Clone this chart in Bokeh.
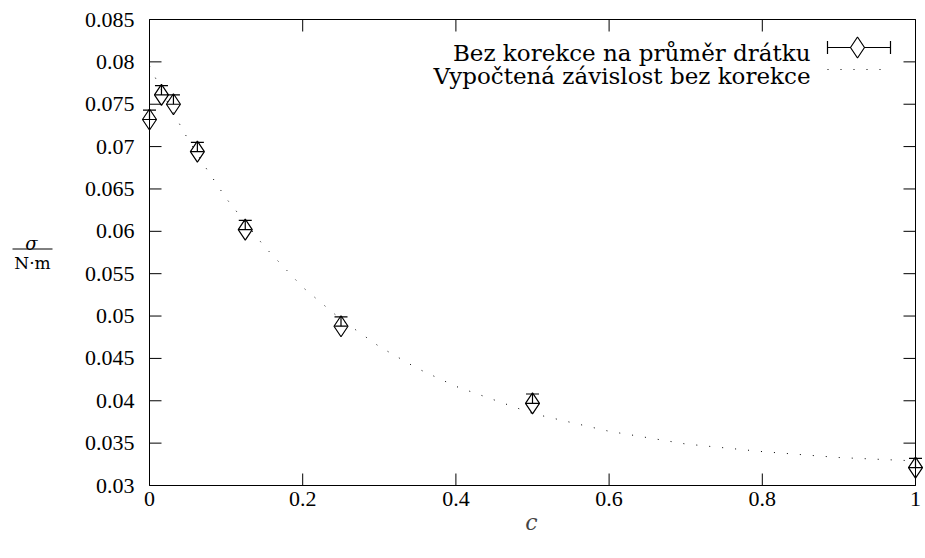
from bokeh.plotting import figure
from bokeh.layouts import row
from bokeh.models import (Range1d, LinearAxis, FixedTicker,
                          CustomJSTickFormatter)
from bokeh.core.properties import value
from bokeh.embed import file_html
from bokeh.resources import INLINE

# ---------------- data ----------------
conc = [0.0, 0.015625, 0.03125, 0.0625, 0.125, 0.25, 0.5, 1.0]
sigma = [0.0732, 0.0761, 0.0750, 0.0694, 0.0602, 0.0488, 0.0397, 0.0321]
sigma_err_up = [0.0011, 0.0011, 0.0011, 0.0011, 0.0011, 0.0011, 0.0011, 0.0011]

fit_conc = [0.0, 0.025, 0.05, 0.075, 0.1, 0.15, 0.2, 0.25, 0.3, 0.35, 0.4,
            0.5, 0.6, 0.7, 0.8, 0.9, 1.0]
fit_sigma = [0.0795, 0.0750, 0.0709, 0.0673, 0.0639, 0.0582, 0.0534, 0.0496,
             0.0464, 0.0438, 0.0417, 0.0385, 0.0364, 0.0349, 0.0340, 0.0333,
             0.0329]

x_min, x_max = 0.0, 1.0
y_min, y_max = 0.03, 0.085
x_ticks = [0, 0.2, 0.4, 0.6, 0.8, 1]
y_ticks = [0.03, 0.035, 0.04, 0.045, 0.05, 0.055, 0.06, 0.065, 0.07, 0.075,
           0.08, 0.085]

label_data = "Bez korekce na průměr drátku"
label_fit = "Vypočtená závislost bez korekce"
x_label = "c"
y_label_num = "σ"
y_label_den = "N·m"

# ---------------- layout ----------------
SERIF = "Liberation Serif"
LEG_FONT = "DejaVu Serif"
H = 550
LW = 60                     # width of the strip holding the y label
W = 864                     # main figure width
# axes box in page pixels
AX_L, AX_T, AX_R, AX_B = 149, 19, 915, 485
# drawing frame (slightly larger so end markers are not clipped)
PAD_L, PAD_R, PAD_V = 10, 8, 2
FR_L, FR_R = AX_L - PAD_L, AX_R + PAD_R
FR_T, FR_B = AX_T - PAD_V, AX_B + PAD_V
BL, BT = FR_L - LW, FR_T
BR, BB = LW + W - FR_R, H - FR_B
TICK = 12

sx = (x_max - x_min) / (AX_R - AX_L)
sy = (y_max - y_min) / (AX_B - AX_T)

p = figure(width=W, height=H, output_backend="svg", toolbar_location=None,
           x_range=Range1d(x_min - PAD_L * sx, x_max + PAD_R * sx),
           y_range=Range1d(y_min - PAD_V * sy, y_max + PAD_V * sy),
           min_border_left=BL, min_border_top=BT, min_border_right=BR,
           min_border_bottom=BB, x_axis_location=None, y_axis_location=None)
p.extra_x_ranges = {"px": Range1d(FR_L, FR_R)}
p.extra_y_ranges = {"px": Range1d(FR_B, FR_T)}
p.grid.visible = False
p.outline_line_color = None
p.background_fill_color = "white"
p.border_fill_color = "white"

fmt = CustomJSTickFormatter(code="return String(Math.round(tick*1000)/1000);")


def make_axis(ticks):
    ax = LinearAxis(ticker=FixedTicker(ticks=ticks), formatter=fmt)
    ax.major_tick_in = 0
    ax.major_tick_out = 0
    ax.major_tick_line_color = None
    ax.minor_tick_line_color = None
    ax.axis_line_color = None
    ax.major_label_text_font = SERIF
    ax.major_label_text_color = "black"
    ax.major_label_text_font_size = "22px"
    return ax


xb = make_axis(x_ticks)
xb.major_label_standoff = 4
xb.axis_label = x_label
xb.axis_label_text_font = LEG_FONT
xb.axis_label_text_font_style = "italic"
xb.axis_label_text_font_size = "22px"
xb.axis_label_standoff = 1
p.add_layout(xb, "below")

yl = make_axis(y_ticks)
yl.major_label_standoff = 5
p.add_layout(yl, "left")

# axes box
p.segment(x0=[AX_L, AX_L, AX_L, AX_R], y0=[AX_T, AX_B, AX_T, AX_T],
          x1=[AX_R, AX_R, AX_L, AX_R], y1=[AX_T, AX_B, AX_B, AX_B],
          line_color="black", line_width=1,
          x_range_name="px", y_range_name="px")

# inward ticks on all four sides
n_x, n_y = len(x_ticks), len(y_ticks)
p.segment(x0=x_ticks, x1=x_ticks, y0=[AX_B] * n_x, y1=[AX_B - TICK] * n_x,
          line_color="black", line_width=1, y_range_name="px")
p.segment(x0=x_ticks, x1=x_ticks, y0=[AX_T] * n_x, y1=[AX_T + TICK] * n_x,
          line_color="black", line_width=1, y_range_name="px")
p.segment(x0=[AX_L] * n_y, x1=[AX_L + TICK] * n_y, y0=y_ticks, y1=y_ticks,
          line_color="black", line_width=1, x_range_name="px")
p.segment(x0=[AX_R] * n_y, x1=[AX_R - TICK] * n_y, y0=y_ticks, y1=y_ticks,
          line_color="black", line_width=1, x_range_name="px")

# ---------------- fit curve ----------------
p.line(fit_conc, fit_sigma, line_color="black", line_width=1,
       line_dash="1 12")

# ---------------- data with error bars ----------------
top = [s + e for s, e in zip(sigma, sigma_err_up)]
p.segment(x0=conc, y0=sigma, x1=conc, y1=top, line_color="black",
          line_width=1.2)
p.scatter(conc, top, marker="dash", size=13, line_color="black",
          line_width=1.2)
p.scatter(conc, sigma, marker="dash", size=13, line_color="black",
          line_width=1.2)
p.scatter(conc, sigma, marker="diamond", size=21, line_color="black",
          fill_color=None, line_width=1.2)

# ---------------- legend (drawn by hand, page-pixel coordinates) ----------
LX0, LX1, LXM = 827, 890, 857
LY1, LY2 = 47, 69
LEG_RIGHT = 810
p.text(x=[LEG_RIGHT, LEG_RIGHT], y=[LY1 + 5, LY2 + 6],
       text=[label_data, label_fit], text_align="right",
       text_baseline="alphabetic", text_font=value(LEG_FONT),
       text_font_size="23px", text_color="black",
       x_range_name="px", y_range_name="px")
p.segment(x0=[LX0, LX0, LX1], y0=[LY1, LY1 - 6.5, LY1 - 6.5],
          x1=[LX1, LX0, LX1], y1=[LY1, LY1 + 6.5, LY1 + 6.5],
          line_color="black", line_width=1.2,
          x_range_name="px", y_range_name="px")
p.scatter([LXM], [LY1], marker="diamond", size=21, line_color="black",
          fill_color="white", line_width=1.2,
          x_range_name="px", y_range_name="px")
p.line([LX0, LX1], [LY2, LY2], line_color="black", line_width=1,
       line_dash="1 12", x_range_name="px", y_range_name="px")

# ---------------- y axis label (fraction) in its own strip ----------------
q = figure(frame_width=LW, frame_height=H, title_location=None,
           output_backend="svg", toolbar_location=None,
           x_range=Range1d(0, LW), y_range=Range1d(H, 0),
           min_border=0, min_border_left=0, min_border_right=0,
           min_border_top=0, min_border_bottom=0,
           x_axis_location=None, y_axis_location=None)
q.grid.visible = False
q.outline_line_color = None
q.background_fill_color = "white"
q.border_fill_color = "white"
FY = 231.5                   # fraction bar position inside the strip
q.text(x=[31], y=[FY - 5.5], text=[y_label_num], text_align="center",
       text_baseline="alphabetic", text_font=value(LEG_FONT),
       text_font_style="italic", text_font_size="18px", text_color="black")
q.segment(x0=[12], x1=[52], y0=[FY], y1=[FY], line_color="black",
          line_width=1)
q.text(x=[32], y=[FY + 13.5], text=[y_label_den], text_align="center",
       text_baseline="alphabetic", text_font=value(LEG_FONT),
       text_font_size="17px", text_color="black")

layout = row(q, p, spacing=0)
open("out.html", "w").write(file_html(layout, INLINE))
